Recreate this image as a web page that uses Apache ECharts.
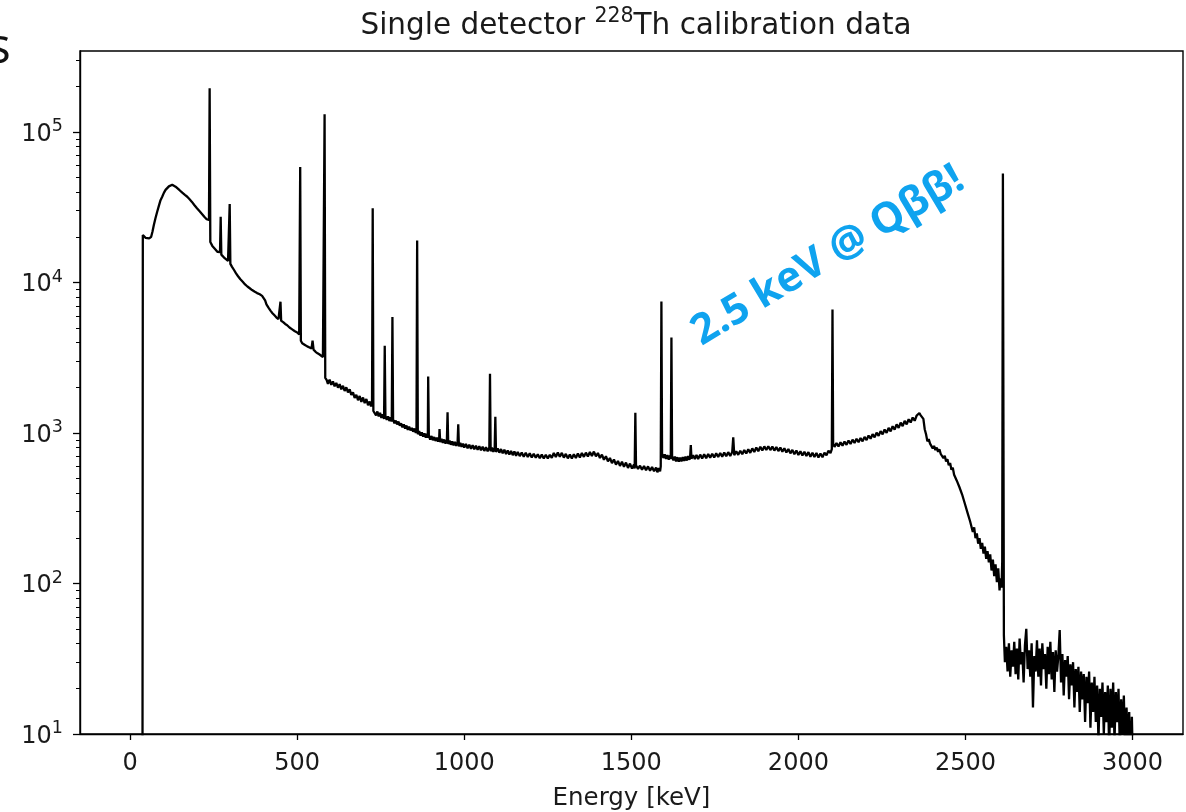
<!DOCTYPE html>
<html>
<head>
<meta charset="utf-8">
<script src="https://cdn.jsdelivr.net/npm/echarts@6/dist/echarts.min.js"></script>
<style>
html,body{margin:0;padding:0;background:#fff;}
#chart{width:1186px;height:812px;}
</style>
</head>
<body>
<div id="chart"></div>
<script>
// ---- Data ----
const xTickValues = [0, 500, 1000, 1500, 2000, 2500, 3000];
const yTickValues = [10, 100, 1000, 10000, 100000];
const yMinorTickValues = [20,30,40,50,60,70,80,90,200,300,400,500,600,700,800,900,
  2000,3000,4000,5000,6000,7000,8000,9000,20000,30000,40000,50000,60000,70000,80000,90000,
  200000,300000];

// spectrum [energy keV, counts] : low energy part
const lowSpectrum = [[37,5],[38,20700],[42,20200],[46,19800],[51,19400],[57,19600],[63,20100],[67,21800],[71,24100],[76,26800],[81,29500],[86,32300],[91,35200],[96,37100],[101,39400],[106,41200],[111,42300],[116,43500],[121,44300],[126,44600],[131,44200],[136,43300],[141,42300],[148,41000],[156,39500],[164,38200],[171,37100],[178,35700],[185,34300],[192,32700],[200,31100],[208,29700],[215,28500],[222,27300],[229,26300],[234,25800],[236,26000],[238,195000],[240,18600],[246,17500],[251,17000],[256,16500],[261,16000],[266,15800],[269,15900],[271,27300],[273,15300],[278,15000],[283,14500],[288,14100],[293,13900],[296,13800],[298,33200],[300,13300],[305,12700],[311,12100],[317,11500],[323,11000],[330,10500],[337,10100],[344,9700],[351,9400],[358,9150],[365,8900],[372,8700],[380,8500],[388,8350],[395,8150],[400,8050],[404,7600],[408,7150],[414,6800],[420,6500],[426,6250],[432,6050],[438,5850],[444,5700],[448,5620],[450,7450],[452,5560],[458,5450],[464,5300],[470,5200],[477,5020],[485,4880],[492,4760],[500,4650],[506,4520],[509,58500],[511,4100],[515,3950],[522,3860],[530,3760],[537,3700],[543,3640],[546,4100],[549,3580],[555,3460],[561,3380],[567,3320],[572,3260],[577,3200],[580,3180],[582,131000],[584,2320]];

// middle part (noisy continuum with lines)
const midSpectrum = [[588,2250],[592,2120],[597,2260],[602,2090],[607,2200],[612,2040],[617,2150],[622,2000],[627,2110],[632,1950],[637,2060],[642,1900],[647,2010],[652,1860],[657,1950],[662,1790],[667,1860],[672,1710],[677,1790],[682,1650],[687,1760],[692,1610],[697,1720],[702,1580],[707,1680],[712,1530],[717,1620],[721,1500],[724,1570],[726,31100],[728,1400],[732,1410],[736,1310],[740,1390],[744,1290],[748,1360],[752,1260],[756,1330],[760,1240],[762,3790],[764,1300],[768,1220],[772,1290],[776,1200],[780,1270],[783,1190],[785,5900],[787,1230],[791,1160],[795,1210],[799,1140],[803,1190],[807,1120],[811,1160],[815,1090],[819,1140],[823,1070],[827,1120],[831,1050],[835,1100],[839,1040],[843,1080],[847,1020],[851,1070],[855,1000],[857,1050],[859,19000],[861,980],[865,1030],[869,960],[873,1010],[877,945],[881,995],[885,930],[889,985],[891,930],[892,2370],[894,960],[898,905],[902,955],[906,895],[910,940],[914,885],[918,930],[922,875],[925,925],[926,1060],[928,870],[932,915],[936,860],[940,905],[944,850],[948,895],[950,1370],[952,845],[956,890],[960,835],[964,880],[968,828],[972,872],[976,820],[980,865],[982,1140],[984,815],[988,858],[992,808],[996,850],[1000,800],[1005,845],[1010,792],[1015,836],[1020,785],[1025,828],[1030,780],[1035,822],[1040,772],[1045,816],[1050,768],[1055,810],[1060,760],[1065,804],[1070,756],[1075,800],[1077,2470],[1079,755],[1083,798],[1087,750],[1091,792],[1093,1280],[1095,748],[1100,790],[1105,740],[1110,782],[1115,732],[1120,774],[1125,725],[1130,766],[1135,718],[1140,760],[1145,712],[1150,754],[1155,706],[1160,748],[1166,702],[1172,742],[1178,696],[1184,738],[1190,692],[1196,732],[1202,688],[1208,728],[1214,684],[1220,722],[1226,680],[1232,718],[1238,676],[1244,716],[1250,676],[1256,716],[1262,684],[1268,736],[1274,692],[1280,742],[1286,694],[1292,738],[1298,686],[1304,726],[1310,678],[1316,720],[1322,676],[1328,722],[1334,682],[1340,730],[1346,688],[1352,736],[1358,694],[1364,740],[1370,698],[1376,748],[1382,704],[1388,752],[1394,700],[1400,736],[1406,682],[1412,718],[1418,664],[1424,700],[1430,648],[1436,682],[1442,630],[1448,666],[1454,616],[1460,652],[1466,604],[1472,644],[1478,596],[1484,636],[1490,586],[1496,626],[1502,580],[1508,616],[1510,580],[1512,1360],[1514,610],[1520,578],[1526,606],[1532,570],[1538,604],[1544,566],[1550,600],[1556,562],[1562,594],[1568,556],[1574,590],[1578,548],[1582,584],[1586,556],[1588,600],[1590,7460],[1592,730],[1596,682],[1600,720],[1604,672],[1608,712],[1612,666],[1616,706],[1618,670],[1620,4300],[1622,700],[1626,658],[1630,696],[1634,648],[1638,690],[1642,644],[1646,686],[1650,648],[1654,690],[1658,652],[1662,696],[1666,656],[1670,702],[1674,664],[1676,700],[1678,832],[1680,674],[1685,712],[1690,670],[1695,716],[1700,672],[1706,718],[1712,676],[1718,722],[1724,680],[1730,726],[1736,684],[1742,728],[1748,688],[1754,732],[1760,692],[1766,736],[1772,696],[1778,742],[1784,700],[1790,746],[1796,704],[1802,748],[1805,935],[1808,712],[1814,756],[1820,716],[1826,762],[1832,722],[1838,770],[1844,730],[1850,780],[1856,738],[1862,790],[1868,748],[1874,800],[1880,756],[1886,810],[1892,766],[1898,814],[1904,770],[1910,816],[1916,770],[1922,812],[1928,764],[1934,806],[1940,758],[1946,800],[1952,750],[1958,792],[1964,742],[1970,782],[1976,732],[1982,772],[1988,722],[1994,764],[2000,714],[2006,756],[2012,708],[2018,750],[2024,702],[2030,746],[2036,696],[2042,740],[2048,692],[2054,736],[2060,688],[2066,730],[2072,690],[2078,738],[2084,712],[2090,762],[2096,736],[2100,780],[2102,6620],[2104,850],[2108,808],[2114,856],[2120,814],[2126,866],[2132,824],[2138,878],[2144,834],[2150,890],[2156,846],[2162,902],[2168,858],[2174,914],[2180,868],[2186,926],[2192,880],[2198,942],[2204,896],[2210,962],[2216,916],[2222,982],[2228,936],[2234,1006],[2240,956],[2246,1028],[2252,978],[2258,1054],[2264,1002],[2270,1080],[2276,1026],[2282,1108],[2288,1054],[2294,1140],[2300,1080],[2306,1170],[2312,1112],[2318,1202],[2324,1142],[2330,1234],[2336,1174],[2342,1266],[2348,1206],[2354,1306],[2358,1270],[2362,1356],[2366,1310],[2370,1340]];

// Compton edge fall-off and 2614 keV line
const highSpectrum = [[2374,1240],[2378,1060],[2382,980],[2386,880],[2390,910],[2394,850],[2398,870],[2402,790],[2406,820],[2410,770],[2414,800],[2418,750],[2422,780],[2426,725],[2430,740],[2434,680],[2438,705],[2442,646],[2446,670],[2450,610],[2454,632],[2458,570],[2462,588],[2466,528],[2470,540],[2474,482],[2478,490],[2482,436],[2486,446],[2490,390],[2494,398],[2498,340],[2502,345],[2506,296],[2510,300],[2514,258],[2518,262],[2522,220],[2526,236],[2530,200],[2534,215],[2538,184],[2542,200],[2546,170],[2550,186],[2554,158],[2558,176],[2562,146],[2566,164],[2570,138],[2574,156],[2578,122],[2582,144],[2586,112],[2590,134],[2594,102],[2598,126],[2602,90],[2605,108],[2608,94],[2610,140],[2612,52900],[2615,45]];

// above 2614 keV: counts in 4 keV bins starting at 2618 keV
const tailStart = 2618;
const tailBin = 4;
const tailCounts = [30,38,26,40,24,36,28,41,25,37,23,43,29,35,22,39,50,27,36,24,40,15,33,26,42,24,37,21,40,27,34,20,38,25,41,23,35,19,36,26,33,49,22,34,18,31,24,33,17,29,21,30,15,27,19,28,14,26,17,25,12,24,16,26,11,22,14,24,12,21,9,20,13,22,10,19,12,21,8,20,11,22,9,19,12,20,8,17,10,18,7,15,9,14,6,13,5];

// ---- Build the series ----
const tailSpectrum = tailCounts.map((c, i) => [tailStart + tailBin * i, c]);
const spectrum = lowSpectrum.concat(midSpectrum, highSpectrum, tailSpectrum);

const FONT = 'DejaVu Sans';
const TXT = '#1a1a1a';

const chart = echarts.init(document.getElementById('chart'), null, {renderer: 'canvas'});
chart.setOption({
  animation: false,
  backgroundColor: '#ffffff',
  title: {
    text: '{a|Single detector }{s|228}{a|Th calibration data}',
    left: 631, top: 0, textAlign: 'center',
    textStyle: {
      fontWeight: 'normal',
      rich: {
        a: {fontFamily: FONT, fontSize: 29.5, fontWeight: 'normal', color: TXT, lineHeight: 36, verticalAlign: 'bottom'},
        s: {fontFamily: FONT, fontSize: 20.5, fontWeight: 'normal', color: TXT, lineHeight: 22, padding: [0, 0, 14, 0], verticalAlign: 'bottom'}
      }
    }
  },
  grid: {
    left: 80, top: 51, right: 3, bottom: 78,
    containLabel: false, outerBoundsMode: 'none',
    show: true, borderColor: '#000', borderWidth: 1.4, backgroundColor: 'transparent'
  },
  xAxis: {
    type: 'value', min: -150, max: 3151,
    name: 'Energy [keV]', nameLocation: 'middle', nameGap: 52,
    nameTextStyle: {fontFamily: FONT, fontSize: 24.5, color: TXT},
    axisLine: {show: true, onZero: false, lineStyle: {color: '#000', width: 1.4}},
    axisTick: {show: true, length: 6, lineStyle: {color: '#000', width: 1.3}, customValues: xTickValues},
    axisLabel: {fontFamily: FONT, fontSize: 24, color: TXT, margin: 18, customValues: xTickValues,
      formatter: v => String(v)},
    splitLine: {show: false}
  },
  yAxis: [{
    type: 'log', logBase: 10, min: 10, max: 345000, position: 'left',
    axisLine: {show: true, onZero: false, lineStyle: {color: '#000', width: 1.4}},
    axisTick: {show: true, length: 7, lineStyle: {color: '#000', width: 1.3}, customValues: yTickValues},
    axisLabel: {
      margin: 17, customValues: yTickValues,
      formatter: v => '{b|10}{e|' + Math.round(Math.log10(v)) + '}',
      rich: {
        b: {fontFamily: FONT, fontSize: 24, color: TXT, lineHeight: 29, verticalAlign: 'bottom'},
        e: {fontFamily: FONT, fontSize: 17.5, color: TXT, lineHeight: 20, padding: [0, 0, 11, 0], verticalAlign: 'bottom'}
      }
    },
    splitLine: {show: false}
  }, {
    type: 'log', logBase: 10, min: 10, max: 345000, position: 'left',
    axisLine: {show: false, onZero: false},
    axisTick: {show: true, length: 4, lineStyle: {color: '#000', width: 1}, customValues: yMinorTickValues},
    axisLabel: {show: false},
    splitLine: {show: false}
  }],
  graphic: [
    {type: 'text', left: -13, top: 24, style: {text: 's', font: '50px "Open Sans"', fill: '#111'}},
    {type: 'text', x: 828, y: 256, rotation: 31 * Math.PI / 180,
     style: {text: '2.5 keV @ Qββ!', font: 'bold 42px "Open Sans"', fill: '#0fa3ef', align: 'center', verticalAlign: 'middle'}}
  ],
  series: [{
    type: 'line', data: spectrum, xAxisIndex: 0, yAxisIndex: 0,
    showSymbol: false, symbol: 'none',
    lineStyle: {color: '#000', width: 2.3}, clip: true
  }]
});
</script>
</body>
</html>
